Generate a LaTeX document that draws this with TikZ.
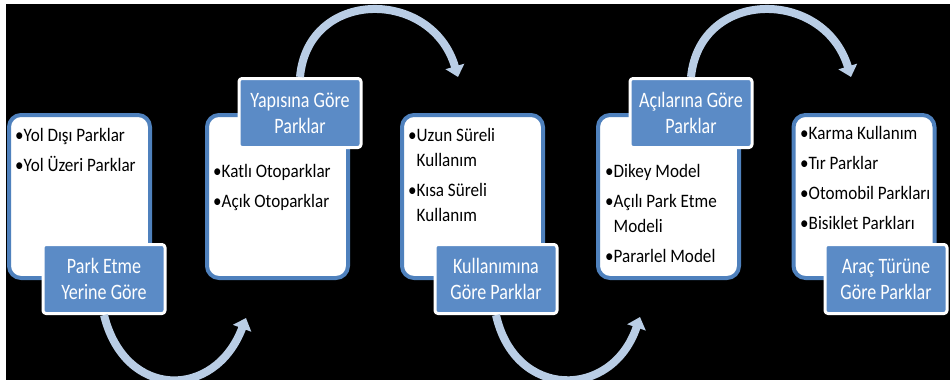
\documentclass[tikz,border=0pt]{standalone}
\usepackage{fontspec}
\setmainfont{Carlito}
\newfontfamily\listfont{Carlito}[FakeStretch=0.9]
\newfontfamily\titlefont{Carlito}[FakeStretch=0.82]
\usetikzlibrary{arrows.meta}
\definecolor{boxline}{RGB}{79,129,189}
\definecolor{labfill}{RGB}{91,139,198}
\definecolor{flow}{RGB}{185,205,229}

\begin{document}
\begin{tikzpicture}[x=1pt, y=-1pt, line join=round,
	groupbox/.style={draw=boxline, line width=4pt, fill=white, rounded corners=12pt, minimum width=141pt, minimum height=163pt, inner sep=0pt},
	listtext/.style={anchor=north west, align=left, inner sep=0pt, font=\listfont\fontsize{19}{25}\selectfont},
	titlebox/.style={draw=white, line width=3pt, fill=labfill, rounded corners=3pt, minimum width=122pt, minimum height=69pt, inner sep=0pt, align=center, text=white, font=\titlefont\fontsize{22}{26}\selectfont},
	flowarrow/.style={draw=flow, line width=8pt, -{Triangle[length=11pt, width=19pt]}}]

\useasboundingbox (0,0) rectangle (950,380);
\fill[white] (0,0) rectangle (950,380);
\fill[black] (6,4) rectangle (950,380);

\node (group1) at (79.5, 196.5) [groupbox] {};
\node (list1) at (15, 124) [listtext] {\strut•Yol Dışı Parklar\\[5pt]•Yol Üzeri Parklar};
\node (title1) at (104, 279) [titlebox] {Park Etme\\Yerine Göre};

\node (group2) at (277.5, 196.5) [groupbox] {};
\node (list2) at (213, 160) [listtext] {\strut•Katlı Otoparklar\\[5pt]•Açık Otoparklar};
\node (title2) at (300, 113) [titlebox] {Yapısına Göre\\Parklar};

\node (group3) at (472.5, 196.5) [groupbox] {};
\node (list3) at (408, 123.5) [listtext] {\strut•Uzun Süreli\\\phantom{•}Kullanım\\[5pt]•Kısa Süreli\\\phantom{•}Kullanım};
\node (title3) at (496, 279) [titlebox] {Kullanımına\\Göre Parklar};

\node (group4) at (668.5, 196.5) [groupbox] {};
\node (list4) at (605, 160) [listtext] {\strut•Dikey Model\\[5pt]•Açılı Park Etme\\\phantom{•}Modeli\\[5pt]•Pararlel Model};
\node (title4) at (691, 113) [titlebox] {Açılarına Göre\\Parklar};

\node (group5) at (864, 196.5) [groupbox] {};
\node (list5) at (800, 122) [listtext] {\strut•Karma Kullanım\\[5pt]•Tır Parklar\\[5pt]•Otomobil Parkları\\[5pt]•Bisiklet Parkları};
\node (title5) at (886, 279) [titlebox] {Araç Türüne\\Göre Parklar};

% arrows between the groups
\coordinate (in2) at (246, 318);
\coordinate (in3) at (458, 77);
\coordinate (in4) at (640, 317);
\coordinate (in5) at (851, 77);

\draw[flowarrow] (title1.south) .. controls (125,400) and (215,400) .. (in2);
\draw[flowarrow] (title2.north) .. controls (308,-12) and (432,-12) .. (in3);
\draw[flowarrow] (title3.south) .. controls (515,400) and (612,400) .. (in4);
\draw[flowarrow] (title4.north) .. controls (700,-12) and (824,-12) .. (in5);

\end{tikzpicture}
\end{document}
